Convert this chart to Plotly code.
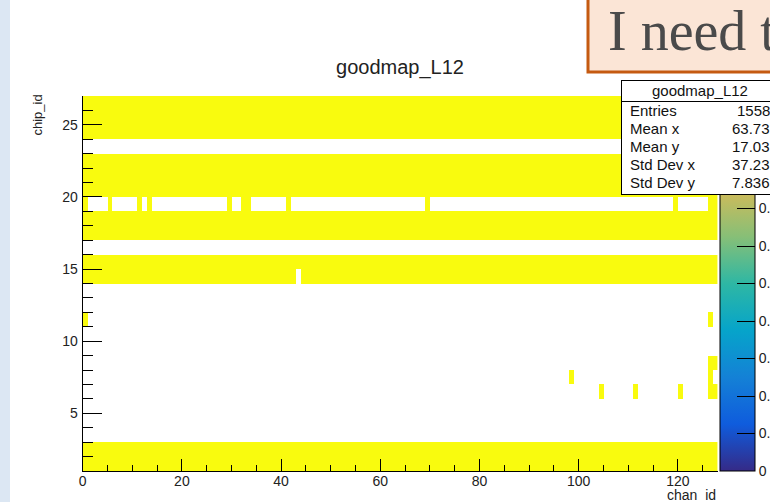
import numpy as np
import plotly.graph_objects as go

W, H = 770, 502

# ---------------- data ----------------
n_chan = 128
chip_lo, chip_hi = 1, 27          # chip_id bins 1..26
full_rows = [1, 2, 14, 15, 17, 18, 20, 21, 22, 24, 25, 26]
dead_chans = [43]                 # empty cells inside full rows
dead_chips = [14]
row19_chans = [0, 5, 11, 13, 29, 32, 33, 41, 69, 119, 126, 127]
extra_chans = [0, 126, 126, 126, 126, 127, 127, 98, 104, 111, 120]
extra_chips = [11, 11, 6, 7, 8, 6, 8, 7, 6, 6, 6]

x_ticks = [0, 20, 40, 60, 80, 100, 120]
y_ticks = [5, 10, 15, 20, 25]
cbar_ticks = [0, 0.1, 0.2, 0.3, 0.4, 0.5, 0.6, 0.7, 0.8, 0.9, 1.0]

stats_title = "goodmap_L12"
stats_labels = ["Entries", "Mean x", "Mean y", "Std Dev x", "Std Dev y"]
stats_values = ["1558", "63.73", "17.03", "37.23", "7.836"]

# ROOT kBird palette
bird_r = [0.2082, 0.0592, 0.0780, 0.0232, 0.1802, 0.5301, 0.8186, 0.9956, 0.9764]
bird_g = [0.1664, 0.3599, 0.5041, 0.6419, 0.7178, 0.7492, 0.7328, 0.7862, 0.9832]
bird_b = [0.5293, 0.8684, 0.8385, 0.7914, 0.6425, 0.4662, 0.3499, 0.1968, 0.0539]

# ---------------- build matrix ----------------
n_chip = chip_hi - chip_lo
z = np.full((n_chip, n_chan), np.nan)
for c in full_rows:
    z[c - chip_lo, :] = 1.0
for ch, c in zip(dead_chans, dead_chips):
    z[c - chip_lo, ch] = np.nan
for ch in row19_chans:
    z[19 - chip_lo, ch] = 1.0
for ch, c in zip(extra_chans, extra_chips):
    z[c - chip_lo, ch] = 1.0
z_list = [[None if np.isnan(v) else float(v) for v in row] for row in z]

x_centers = (np.arange(n_chan) + 0.5).tolist()
y_centers = (np.arange(chip_lo, chip_hi) + 0.5).tolist()

n = len(bird_r)
colorscale = [[i / (n - 1), "rgb(%d,%d,%d)" % (round(bird_r[i] * 255), round(bird_g[i] * 255), round(bird_b[i] * 255))]
              for i in range(n)]

def px(xp):
    return xp / W

def py(yp):
    return 1 - yp / H

plot_l, plot_r, plot_t, plot_b = 82.7, 717.6, 96, 471

FONT = "Liberation Sans, Arial, sans-serif"
TXT = "#222222"

fig = go.Figure()
fig.add_trace(go.Heatmap(
    z=z_list, x=x_centers, y=y_centers,
    zmin=0, zmax=1, colorscale=colorscale,
    hoverongaps=False,
    colorbar=dict(
        x=px(720), xanchor="left", y=py(plot_b), yanchor="bottom",
        len=(plot_b - plot_t) / H, lenmode="fraction",
        thickness=35, thicknessmode="pixels", xpad=0, ypad=0,
        outlinewidth=1, outlinecolor="black",
        ticks="inside", ticklen=18, tickcolor="black", tickwidth=1,
        tickmode="array", tickvals=cbar_ticks,
        tickfont=dict(family=FONT, size=14, color=TXT),
    ),
))

fig.update_layout(
    width=W, height=H,
    margin=dict(l=0, r=0, t=0, b=0, autoexpand=False),
    paper_bgcolor="white", plot_bgcolor="white",
    title=dict(text="goodmap_L12", x=px(400), y=py(67), xref="paper", yref="paper",
               xanchor="center", yanchor="middle",
               font=dict(family=FONT, size=20, color=TXT)),
    xaxis=dict(domain=[px(plot_l), px(plot_r)], range=[0, n_chan],
               tickmode="array", tickvals=x_ticks,
               ticks="inside", ticklen=12, tickcolor="black", tickwidth=1,
               minor=dict(ticks="inside", ticklen=6, dtick=5, tick0=0, tickcolor="black", tickwidth=1),
               showline=True, linecolor="black", linewidth=1,
               showgrid=False, zeroline=False,
               ticklabelstandoff=-3,
               tickfont=dict(family=FONT, size=14, color=TXT)),
    yaxis=dict(domain=[py(plot_b), py(plot_t)], range=[chip_lo, chip_hi],
               tickmode="array", tickvals=y_ticks,
               ticks="inside", ticklen=19, tickcolor="black", tickwidth=1,
               minor=dict(ticks="inside", ticklen=10, dtick=1, tick0=0, tickcolor="black", tickwidth=1),
               showline=True, linecolor="black", linewidth=1,
               showgrid=False, zeroline=False,
               ticklabelstandoff=1,
               tickfont=dict(family=FONT, size=14, color=TXT)),
)

shapes = [
    # slide background strip on the left
    dict(type="rect", xref="paper", yref="paper", x0=0, x1=px(10), y0=-0.05, y1=1.05,
         fillcolor="#dce7f3", line=dict(width=0), layer="below"),
    # callout box (top right)
    dict(type="rect", xref="paper", yref="paper", x0=px(588), x1=px(790), y0=py(72), y1=py(-20),
         fillcolor="#fbe5d6", line=dict(color="#c55a11", width=3), layer="above"),
]
fig.update_layout(shapes=shapes)

ann = []
ann.append(dict(text="I need t", x=px(606), y=py(31), xref="paper", yref="paper",
                xanchor="left", yanchor="middle", showarrow=False,
                font=dict(family="Liberation Serif, Times New Roman, serif", size=56, color="#4a4a4a")))
# axis titles (ROOT style, aligned to axis ends)
ann.append(dict(text="chan_id", x=px(plot_r), y=py(495), xref="paper", yref="paper",
                xanchor="right", yanchor="middle", showarrow=False,
                font=dict(family=FONT, size=14, color=TXT)))
ann.append(dict(text="chip_id", x=px(37), y=py(93), xref="paper", yref="paper",
                xanchor="center", yanchor="top", textangle=-90, showarrow=False,
                font=dict(family=FONT, size=13, color=TXT)))
# stats box
box_l, box_r, box_t, box_mid, box_b = 621, 790, 80, 101, 193
ann.append(dict(text=" ", x=px(box_l), y=py(box_t), xref="paper", yref="paper",
                xanchor="left", yanchor="top", showarrow=False,
                width=box_r - box_l, height=box_mid - box_t, borderpad=0,
                bgcolor="white", bordercolor="black", borderwidth=1))
ann.append(dict(text=" ", x=px(box_l), y=py(box_mid), xref="paper", yref="paper",
                xanchor="left", yanchor="top", showarrow=False,
                width=box_r - box_l, height=box_b - box_mid, borderpad=0,
                bgcolor="white", bordercolor="black", borderwidth=1))
ann.append(dict(text=stats_title, x=px(700), y=py(90), xref="paper", yref="paper",
                xanchor="center", yanchor="middle", showarrow=False,
                font=dict(family=FONT, size=15, color="#111111")))
row_y = [110, 128.2, 146.4, 164.6, 182.8]
for lab, val, yy in zip(stats_labels, stats_values, row_y):
    ann.append(dict(text=lab, x=px(628), y=py(yy), xref="paper", yref="paper",
                    xanchor="left", yanchor="middle", showarrow=False,
                    font=dict(family=FONT, size=15, color="#111111")))
    ann.append(dict(text=val, x=px(772), y=py(yy), xref="paper", yref="paper",
                    xanchor="right", yanchor="middle", showarrow=False,
                    font=dict(family=FONT, size=15, color="#111111")))
fig.update_layout(annotations=ann)

fig.write_html("out.html")
